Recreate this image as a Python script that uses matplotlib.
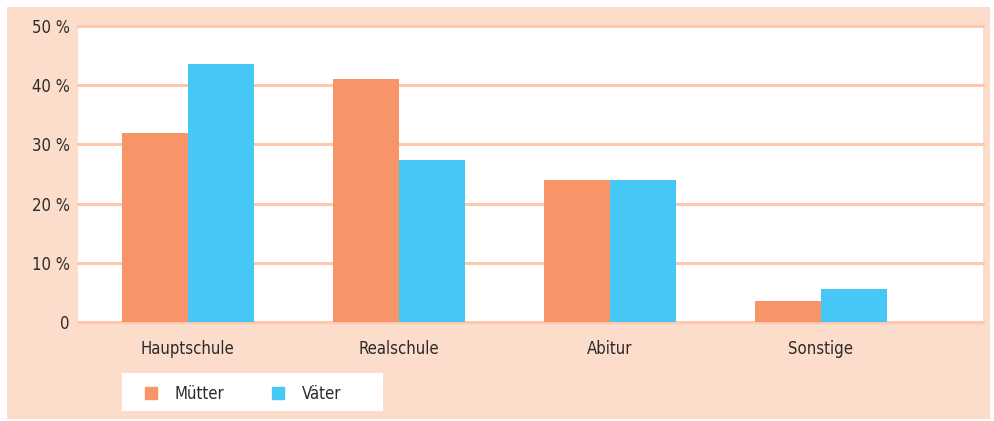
import matplotlib.pyplot as plt
import numpy as np
from matplotlib.patches import Rectangle, Patch

# Daten
categories = ["Hauptschule", "Realschule", "Abitur", "Sonstige"]
muetter = [32, 41, 24, 3.5]
vaeter = [43.6, 27.3, 24, 5.5]
series_names = ["Mütter", "Väter"]
yticks = [0, 10, 20, 30, 40, 50]
ytick_labels = ["0", "10 %", "20 %", "30 %", "40 %", "50 %"]

c_mutter = "#f79569"
c_vater = "#45c8f5"
c_bg = "#fcdcca"
c_grid = "#fcc8ae"
c_text = "#2b2b2b"

W, H = 994, 421
plt.rcParams['font.family'] = ['DejaVu Sans']
plt.rcParams['font.stretch'] = 'condensed'
fig = plt.figure(figsize=(W / 100, H / 100), dpi=100)
fig.patch.set_facecolor("white")

# peach panel
fig.patches.append(Rectangle((7 / W, 2 / H), 983 / W, 412 / H, transform=fig.transFigure,
                             facecolor=c_bg, edgecolor="none", zorder=-2))
# legend box
fig.patches.append(Rectangle((122 / W, (H - 411) / H), 261 / W, 38 / H, transform=fig.transFigure,
                             facecolor="white", edgecolor="none", zorder=-1))

ax = fig.add_axes([78 / W, 99 / H, 905 / W, 296 / H])
ax.set_facecolor("white")
x = np.arange(len(categories))
w = 0.313
ax.bar(x - w / 2, muetter, w, color=c_mutter, zorder=3)
ax.bar(x + w / 2, vaeter, w, color=c_vater, zorder=3)

for t in yticks:
    ax.axhline(t, color=c_grid, lw=2.2, zorder=2, clip_on=False)

ax.set_xlim(-0.52, 3.77)
ax.set_ylim(0, 50)
for s in ax.spines.values():
    s.set_visible(False)
ax.set_yticks(yticks)
ax.set_yticklabels(ytick_labels, fontsize=12, color=c_text)
ax.set_xticks(x)
ax.set_xticklabels(categories, fontsize=12, color=c_text)
ax.tick_params(length=0)
ax.tick_params(axis="y", pad=6)
ax.tick_params(axis="x", pad=13)

handles = [Patch(color=c_mutter), Patch(color=c_vater)]
leg = fig.legend(handles, series_names, loc="center left", ncol=2, frameon=False,
                 bbox_to_anchor=(145 / W, (H - 394) / H), fontsize=12,
                 borderpad=0, borderaxespad=0,
                 handlelength=0.7, handleheight=0.7, handletextpad=1.05, columnspacing=2.9)
for t in leg.get_texts():
    t.set_color(c_text)

fig.savefig("out.png", dpi=100)
